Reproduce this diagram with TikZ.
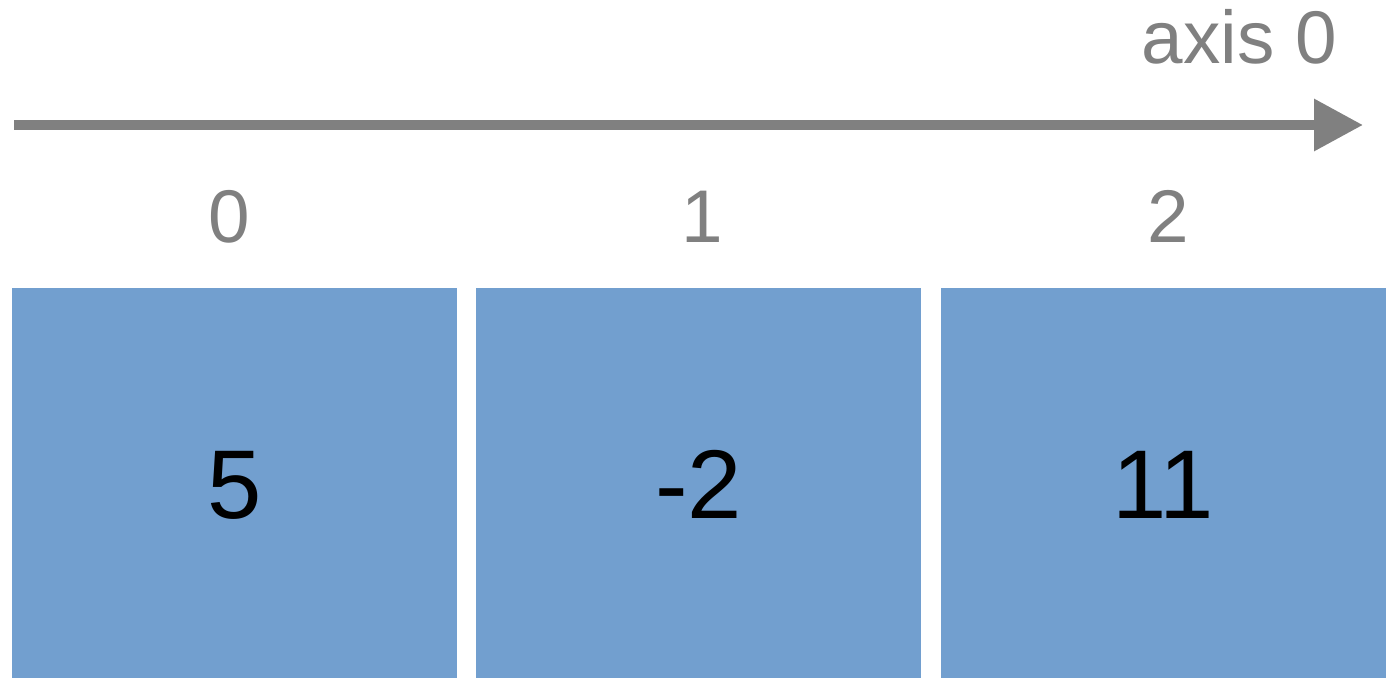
\documentclass[tikz,border=0pt]{standalone}
\usepackage{fontspec}
\setmainfont{Liberation Sans}
\usepackage{tikz}
\usetikzlibrary{arrows.meta,positioning}
\definecolor{axisgray}{HTML}{808080}
\definecolor{cellblue}{HTML}{729FCF}

\begin{document}
\begin{tikzpicture}[x=0.02cm,y=-0.02cm,
  cell/.style={fill=cellblue,draw=none,minimum width=445*0.02cm,minimum height=390*0.02cm,inner sep=0pt},
  val/.style={font=\fontsize{55.6pt}{60pt}\selectfont,text=black,anchor=base},
  idx/.style={font=\fontsize{42.5pt}{46pt}\selectfont,text=axisgray,anchor=base},
  arr/.style={-{Triangle[length=27.8pt,width=28.3pt]},draw=axisgray,line width=5.67pt}]
  \useasboundingbox (0,0) rectangle (1396,690);
  % cells
  \node[cell] (c0) at (234.5,483) {};
  \node[cell] (c1) at (698.5,483) {};
  \node[cell] (c2) at (1163,483) {};
  \node[val] (v0) at (234.5,518) {5};
  \node[val] (v1) at (698.5,518) {-2};
  \node[val] (v2) at (1163,518) {11};
  % indices
  \node[idx] (i0) at (229,242) {0};
  \node[idx] (i1) at (702,242) {1};
  \node[idx] (i2) at (1168,242) {2};
  % axis
  \coordinate (a0) at (14,125);
  \coordinate (a1) at (1363,125);
  \draw[arr] (a0)--(a1);
  \node[idx,anchor=base east,inner sep=0pt] (lab) at (1337,63) {axis 0};
\end{tikzpicture}
\end{document}
